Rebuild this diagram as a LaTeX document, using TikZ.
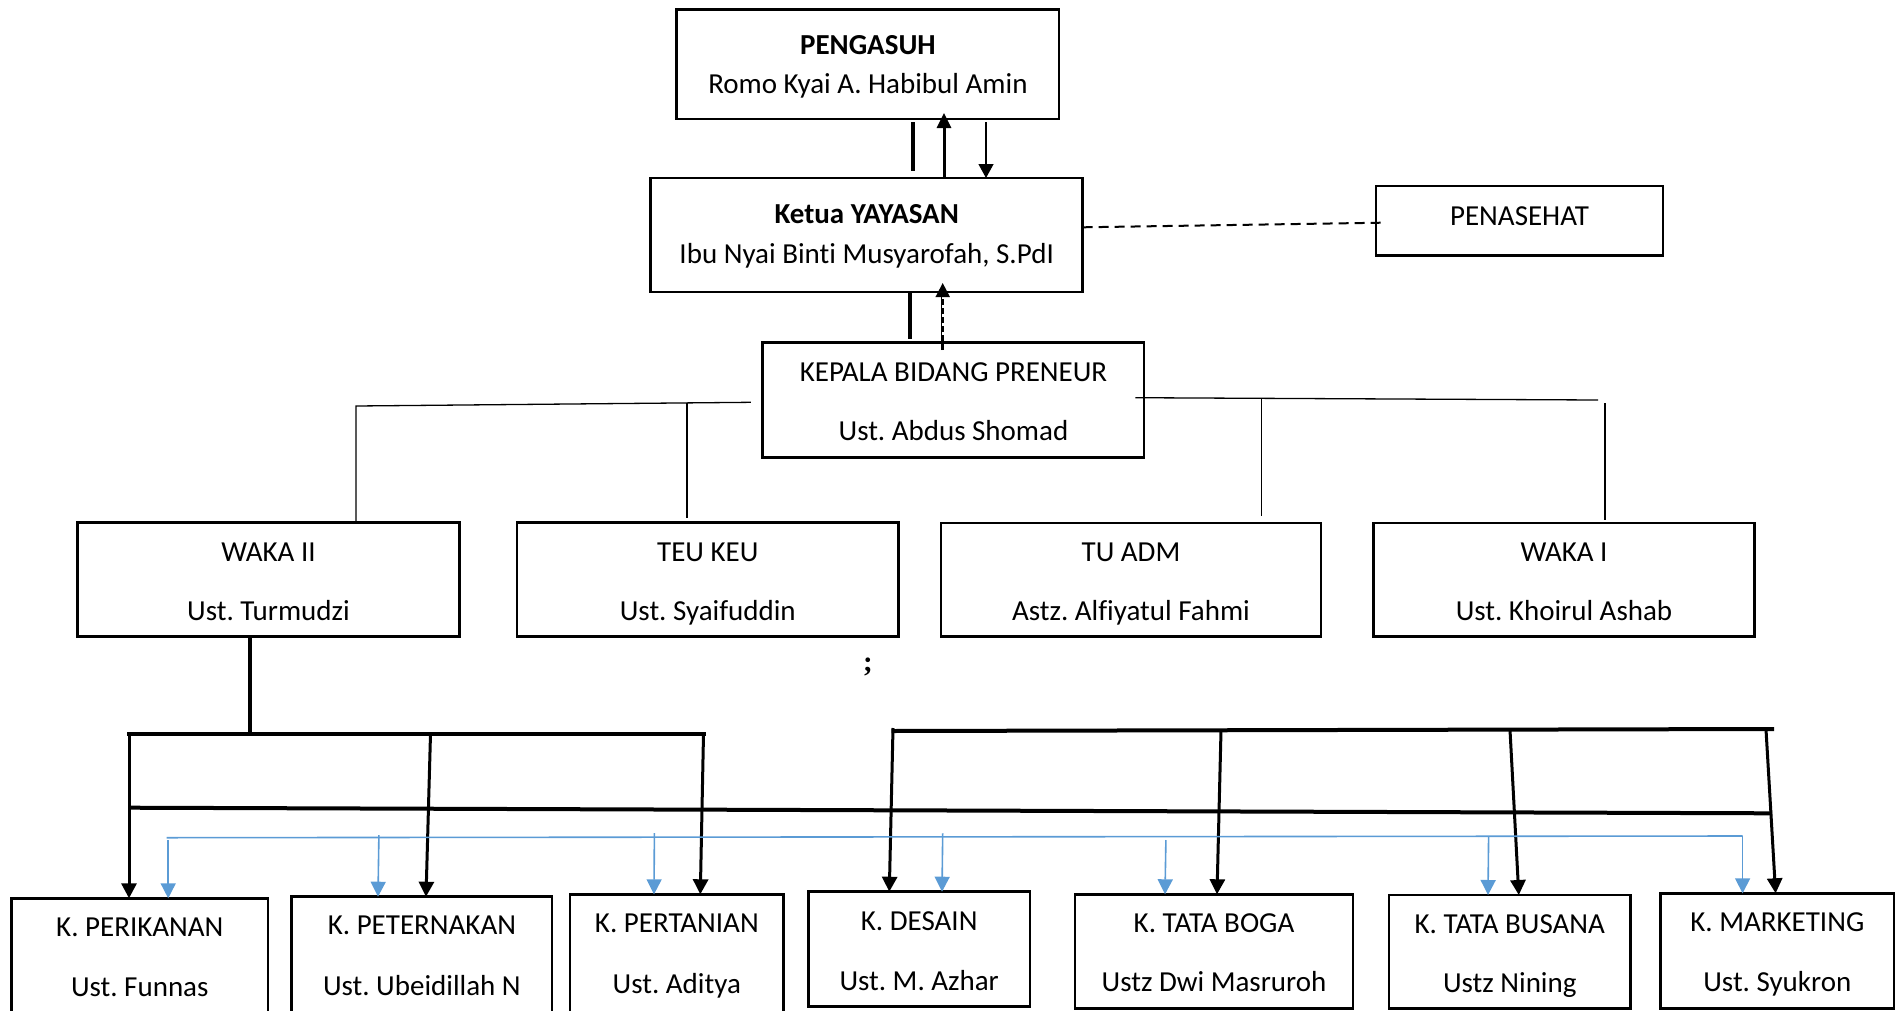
\documentclass[tikz,border=0pt]{standalone}
\usepackage{fontspec}
\setmainfont[Ligatures=NoCommon]{Carlito}
\newfontfamily\semifont{Liberation Serif}
\usetikzlibrary{arrows.meta}
\definecolor{lineblue}{HTML}{5B9BD5}
\frenchspacing
\newcommand\mkbox[5]{%
  \pgfmathsetmacro\mkbw{#4-#2}\pgfmathsetmacro\mkbh{#5-#3}%
  \pgfmathsetmacro\mkcx{(#2+#4)/2}\pgfmathsetmacro\mkcy{(#3+#5)/2}%
  \node[box,minimum width=\mkbw pt,minimum height=\mkbh pt] (#1) at (\mkcx,\mkcy) {};}
\begin{document}
\frenchspacing
\begin{tikzpicture}[x=1pt,y=-1pt,
  box/.style={draw,line width=2.5pt,inner sep=0pt,outer sep=0pt,rectangle},
  txt/.style={anchor=base,inner sep=0pt,font=\fontsize{29}{35}\selectfont\frenchspacing},
  btxt/.style={anchor=base,inner sep=0pt,font=\fontsize{29}{35}\selectfont\bfseries\frenchspacing},
  conn/.style={line width=1.3pt},
  bar/.style={line width=4pt},
  blk/.style={line width=3pt,-{Triangle[length=15pt,width=15pt]}},
  blu/.style={draw=lineblue,line width=1.6pt},
  bluarr/.style={draw=lineblue,line width=1.6pt,-{Triangle[length=15pt,width=15pt]},fill=lineblue}
]
\useasboundingbox (0,0) rectangle (1904,1010);
\clip (0,0) rectangle (1904,1010);

% boxes
\mkbox{pengasuh}{676.7}{9.3}{1059}{119}
\mkbox{ketua}{650.7}{178}{1082.7}{292}
\mkbox{penasehat}{1376}{186}{1663}{255.3}
\mkbox{kepala}{762.7}{342.7}{1144.2}{457.3}
\mkbox{wakaii}{77.6}{522.7}{459.5}{636.5}
\mkbox{teukeu}{517}{522.7}{898.5}{636.5}
\mkbox{tuadm}{941}{523}{1321}{636.5}
\mkbox{wakai}{1373.4}{523}{1754.7}{636.5}
\mkbox{perikanan}{11.5}{898.3}{268}{1016}
\mkbox{peternakan}{291.6}{896.7}{552.2}{1016}
\mkbox{pertanian}{570}{894.3}{783.6}{1016}
\mkbox{desain}{808.3}{891.7}{1030.1}{1006.7}
\mkbox{tataboga}{1075.2}{894.3}{1352.8}{1008.3}
\mkbox{tatabusana}{1389}{895}{1630.5}{1008.3}
\mkbox{marketing}{1660.5}{893.3}{1894}{1008.3}

% texts
\node[btxt] (t1a) at (867.9,54) {PENGASUH};
\node[txt] (t1b) at (867.9,93.3) {Romo Kyai A. Habibul Amin};
\node[btxt] (t2a) at (866.7,223.3) {Ketua YAYASAN};
\node[txt] (t2b) at (866.7,263.3) {Ibu Nyai Binti Musyarofah, S.PdI};
\node[txt] (t3a) at (1519.5,225) {PENASEHAT};
\node[txt] (t4a) at (953.5,381) {KEPALA BIDANG PRENEUR};
\node[txt] (t4b) at (953.5,440.7) {Ust. Abdus Shomad};
\node[txt] (t5a) at (268.5,561.7) {WAKA II};
\node[txt] (t5b) at (268.5,620) {Ust. Turmudzi};
\node[txt] (t6a) at (707.8,561.7) {TEU KEU};
\node[txt] (t6b) at (707.8,620) {Ust. Syaifuddin};
\node[txt] (t7a) at (1131,561.7) {TU ADM};
\node[txt] (t7b) at (1131,620) {Astz. Alfiyatul Fahmi};
\node[txt] (t8a) at (1564,561.7) {WAKA I};
\node[txt] (t8b) at (1564,620) {Ust. Khoirul Ashab};
\node[txt] (t9a) at (139.8,936) {K. PERIKANAN};
\node[txt] (t9b) at (139.8,996.7) {Ust. Funnas};
\node[txt] (t10a) at (421.9,934.5) {K. PETERNAKAN};
\node[txt] (t10b) at (421.9,995) {Ust. Ubeidillah N};
\node[txt] (t11a) at (676.8,932.5) {K. PERTANIAN};
\node[txt] (t11b) at (676.8,993) {Ust. Aditya};
\node[txt] (t12a) at (919.2,930) {K. DESAIN};
\node[txt] (t12b) at (919.2,990) {Ust. M. Azhar};
\node[txt] (t13a) at (1214,932.7) {K. TATA BOGA};
\node[txt] (t13b) at (1214,991.7) {Ustz Dwi Masruroh};
\node[txt] (t14a) at (1509.8,933.3) {K. TATA BUSANA};
\node[txt] (t14b) at (1509.8,992.5) {Ustz Nining};
\node[txt] (t15a) at (1777.3,931.5) {K. MARKETING};
\node[txt] (t15b) at (1777.3,991) {Ust. Syukron};
\node[anchor=base,inner sep=0pt,font=\semifont\fontsize{29}{35}\selectfont\bfseries] (semi) at (868,671) {;};

% top connectors
\coordinate (upTip) at (944,113);
\coordinate (dnStart) at (986,122);
\draw[bar] (912.7,122) -- (912.7,171);
\draw[line width=3pt,-{Triangle[length=15pt,width=14pt]}] (944,0 |- ketua.north) -- (upTip);
\draw[conn,-{Triangle[length=14pt,width=15pt]}] (dnStart) -- (986,0 |- ketua.north);
\draw[bar] (910,293) -- (910,339);
\coordinate (dashStart) at (942.7,350);
\coordinate (dashTip) at (942.7,283);
\draw[line width=1.2pt] (941.5,350) -- (941.5,290);
\draw[line width=1.8pt,dash pattern=on 6pt off 3pt,-{Triangle[length=14pt,width=14pt]}] (dashStart) -- (dashTip);

% dashed to penasehat
\coordinate (pnA) at (1082.6,227.3);
\coordinate (pnB) at (1381.7,222.7);
\draw[line width=2pt,dash pattern=on 10pt off 6pt] (pnA) -- (pnB);

% kepala to middle row
\draw[conn] (355.9,0 |- wakaii.north) -- (355.9,406) -- (750.9,402.3);
\draw[conn] (687,402.5) -- (687,518.3);
\draw[conn] (1135.3,397.7) -- (1598.2,400);
\draw[conn] (1261.5,398.7) -- (1261.5,516);
\draw[conn] (1605,403.3) -- (1605,519.7);

% left bracket from WAKA II
\draw[bar] (249.7,0 |- wakaii.south) -- (249.7,734);
\draw[bar] (127,734) -- (706,734);
\draw[blk] (129,732) -- (129,0 |- perikanan.north);
\draw[blk] (430.5,734) -- (426,0 |- peternakan.north);
\draw[blk] (703.5,734) -- (700.3,0 |- pertanian.north);

% lower bar
\draw[bar] (129,807.7) -- (1772,813.3);

% upper right bracket
\draw[bar] (891.5,731) -- (1774,729);
\draw[blk] (893,728) -- (889.3,0 |- desain.north);
\draw[blk] (1221,730.5) -- (1217,0 |- tataboga.north);
\draw[blk] (1510,730) -- (1518.8,0 |- tatabusana.north);
\draw[blk] (1766,729.5) -- (1775.6,0 |- marketing.north);

% blue line and arrows
\draw[blu] (166.5,837.7) -- (1742.6,836);
\draw[bluarr] (168.2,840) -- (168.2,0 |- perikanan.north);
\draw[bluarr] (378.9,835) -- (378,0 |- peternakan.north);
\draw[bluarr] (654.4,833) -- (654,0 |- pertanian.north);
\draw[bluarr] (942.7,833.3) -- (942,0 |- desain.north);
\draw[bluarr] (1165.9,840) -- (1165,0 |- tataboga.north);
\draw[bluarr] (1488.6,836.7) -- (1488,0 |- tatabusana.north);
\draw[bluarr] (1742.6,836) -- (1742.6,0 |- marketing.north);
\end{tikzpicture}
\end{document}
